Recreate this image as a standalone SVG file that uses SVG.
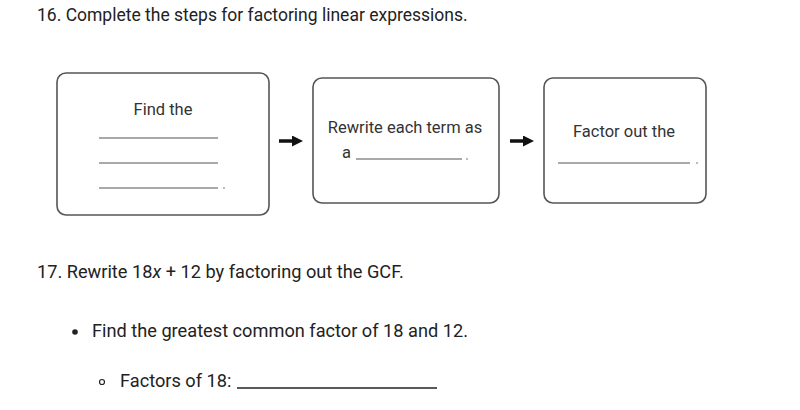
<svg xmlns="http://www.w3.org/2000/svg" width="800" height="410" viewBox="0 0 800 410">
<style>
text{font-family:Roboto,"Liberation Sans",sans-serif;fill:#222}
.h{font-size:17.5px}
.q{font-size:18.2px}
.b{font-size:16.5px;fill:#333}
.box{fill:#fff;stroke:#555;stroke-width:1.6}
.blank{stroke:#555;stroke-width:1.2}
.arr{stroke:#111;stroke-width:3.5;fill:none}
</style>
<defs>
<marker id="ah" markerWidth="11" markerHeight="11" refX="1" refY="5.5" orient="auto" markerUnits="userSpaceOnUse"><path d="M0,0 L11,5.5 L0,11 Z" fill="#111"/></marker>
</defs>
<rect width="800" height="410" fill="#fff"/>
<text class="h" x="37" y="21">16. Complete the steps for factoring linear expressions.</text>
<g id="step1">
<rect class="box" x="57" y="73" width="212" height="142" rx="9"/>
<text class="b" x="163" y="115" text-anchor="middle">Find the</text>
<line class="blank" x1="99" y1="138" x2="218" y2="138"/>
<line class="blank" x1="99" y1="163" x2="218" y2="163"/>
<line class="blank" x1="99" y1="188" x2="218" y2="188"/>
<circle cx="224" cy="188" r="0.8" fill="#666"/>
</g>
<g id="step2">
<rect class="box" x="313" y="78" width="186" height="125" rx="9"/>
<text class="b" x="405" y="133" text-anchor="middle">Rewrite each term as</text>
<text class="b" x="342" y="158">a</text>
<line class="blank" x1="356" y1="159" x2="462" y2="159"/>
<circle cx="467" cy="159" r="0.8" fill="#666"/>
</g>
<g id="step3">
<rect class="box" x="544" y="78" width="162" height="125" rx="9"/>
<text class="b" x="624" y="137" text-anchor="middle">Factor out the</text>
<line class="blank" x1="558" y1="163" x2="690" y2="163"/>
<circle cx="697" cy="163" r="0.8" fill="#666"/>
</g>
<g id="connectors">
<line class="arr" x1="279" y1="141" x2="293" y2="141" marker-end="url(#ah)"/>
<line class="arr" x1="510" y1="141" x2="524" y2="141" marker-end="url(#ah)"/>
</g>
<text class="q" x="37" y="278">17. Rewrite 18<tspan font-style="italic">x</tspan> + 12 by factoring out the GCF.</text>
<circle cx="75" cy="332" r="2.8" fill="#222"/>
<text class="q" x="92" y="337">Find the greatest common factor of 18 and 12.</text>
<circle cx="102" cy="382" r="2.5" fill="none" stroke="#222" stroke-width="1.2"/>
<text class="q" x="120" y="387">Factors of 18:</text>
<line x1="237" y1="388" x2="437" y2="388" stroke="#222" stroke-width="1.3"/>
</svg>
